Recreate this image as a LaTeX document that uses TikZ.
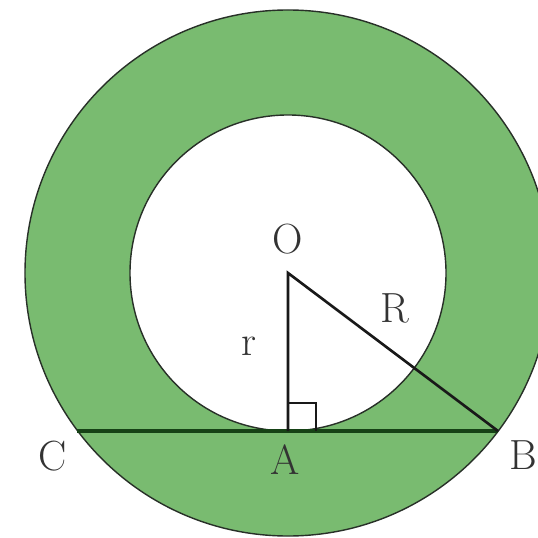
\documentclass[tikz,border=0pt]{standalone}
\usepackage{xcolor}
\definecolor{ringGreen}{RGB}{121,187,112}
\definecolor{chordGreen}{RGB}{22,66,22}
\definecolor{rimGrey}{RGB}{40,48,40}
\usepackage{tikz}
\usetikzlibrary{positioning}

\begin{document}
\begin{tikzpicture}[x=0.2mm,y=-0.2mm,
  lbl/.style={font=\fontsize{24}{26}\selectfont,inner sep=0pt,text=black!80},
  rim/.style={draw=rimGrey,line width=0.8pt},
  seg/.style={draw=black!90,line width=1.5pt},
  sq/.style={draw=black!90,line width=1.3pt}]
  \useasboundingbox (0,0) rectangle (538,538);
  \clip (0,0) rectangle (538,538);
  % points
  \coordinate (O) at (288,273);
  \coordinate (A) at (288,431);
  \coordinate (B) at (498,431);
  \coordinate (C) at (77,431);
  % annulus
  \fill[ringGreen] (O) circle (52.6mm);
  \fill[white] (O) circle (31.6mm);
  \draw[rim] (O) circle (52.6mm);
  \draw[rim] (O) circle (31.6mm);
  % chord and radii
  \draw[chordGreen,line width=2.2pt] (C) -- (B);
  \draw[seg] (A) -- (O) -- (B);
  \draw[sq] (A) ++(28,0) |- ++(-28,-28);
  % labels
  \node[lbl,above=3.6mm of O] (labO) {O};
  \node[lbl] (labR) at (395,308) {R};
  \node[lbl] (labr) at (249,346) {r};
  \node[lbl] (labC) at (53,456) {C};
  \node[lbl] (labA) at (285,460) {A};
  \node[lbl,anchor=west] (labB) at (509,455) {B};
\end{tikzpicture}
\end{document}
